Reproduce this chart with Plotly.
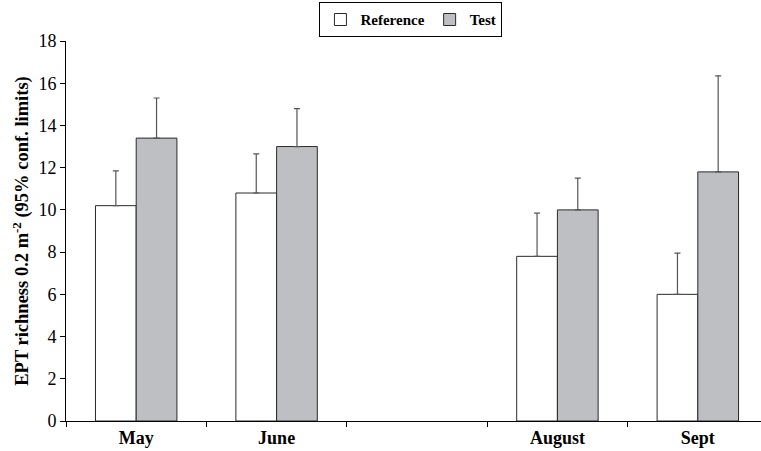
import plotly.graph_objects as go

months = ["May", "June", " ", "August", "Sept"]
reference = [10.2, 10.8, None, 7.8, 6.0]
reference_upper = [11.85, 12.65, None, 9.85, 7.95]
test = [13.4, 13.0, None, 10.0, 11.8]
test_upper = [15.3, 14.8, None, 11.5, 16.35]

def plus(vals, ups):
    return [None if v is None else round(u - v, 3) for v, u in zip(vals, ups)]

font_family = "Liberation Serif, Times New Roman, serif"

fig = go.Figure()
fig.add_trace(go.Bar(
    name="<b>Reference</b>", x=months, y=reference,
    marker=dict(color="white", line=dict(color="#2a2a2a", width=1)),
    error_y=dict(type="data", symmetric=False, array=plus(reference, reference_upper),
                 arrayminus=[0 if v is not None else None for v in reference],
                 color="#555555", thickness=1.2, width=3),
))
fig.add_trace(go.Bar(
    name="<b>Test</b>", x=months, y=test,
    marker=dict(color="#bebfc3", line=dict(color="#2a2a2a", width=1)),
    error_y=dict(type="data", symmetric=False, array=plus(test, test_upper),
                 arrayminus=[0 if v is not None else None for v in test],
                 color="#555555", thickness=1.2, width=3),
))

fig.update_layout(
    width=761, height=451,
    margin=dict(l=66, r=0, t=41, b=30, autoexpand=False),
    paper_bgcolor="white", plot_bgcolor="white",
    barmode="group", bargap=0.42, bargroupgap=0,
    font=dict(family=font_family, color="black", size=16),
    showlegend=True,
    legend=dict(orientation="h", x=0.54, xanchor="center", xref="container",
                y=0.995, yanchor="top", yref="container",
                bordercolor="black", borderwidth=1, bgcolor="white",
                font=dict(family=font_family, size=15, color="black"),
                itemwidth=30, traceorder="normal", tracegroupgap=0,
                ),
)
fig.update_xaxes(
    type="category", categoryorder="array", categoryarray=months,
    range=[-0.5, 4.45], showline=True, linecolor="black", linewidth=1,
    ticks="outside", tickson="boundaries", ticklen=5, tickcolor="black",
    tickfont=dict(family=font_family, size=18, color="black"),
    tickvals=months, ticktext=["<b>May</b>", "<b>June</b>", "", "<b>August</b>", "<b>Sept</b>"],
    showgrid=False, zeroline=False, automargin=False,
)
fig.update_yaxes(
    range=[0, 18], dtick=2, showline=True, linecolor="black", linewidth=1,
    ticks="outside", ticklen=5, tickcolor="black",
    tickfont=dict(family=font_family, size=18, color="black"),
    showgrid=False, zeroline=False, automargin=False,
    title=dict(text="<b>EPT richness 0.2 m<sup>-2</sup> (95% conf. limits)</b>",
               font=dict(family=font_family, size=18.5, color="black"), standoff=4),
)

fig.write_html("out.html", config={"displayModeBar": False},
               post_script="document.body.style.margin='0';")
